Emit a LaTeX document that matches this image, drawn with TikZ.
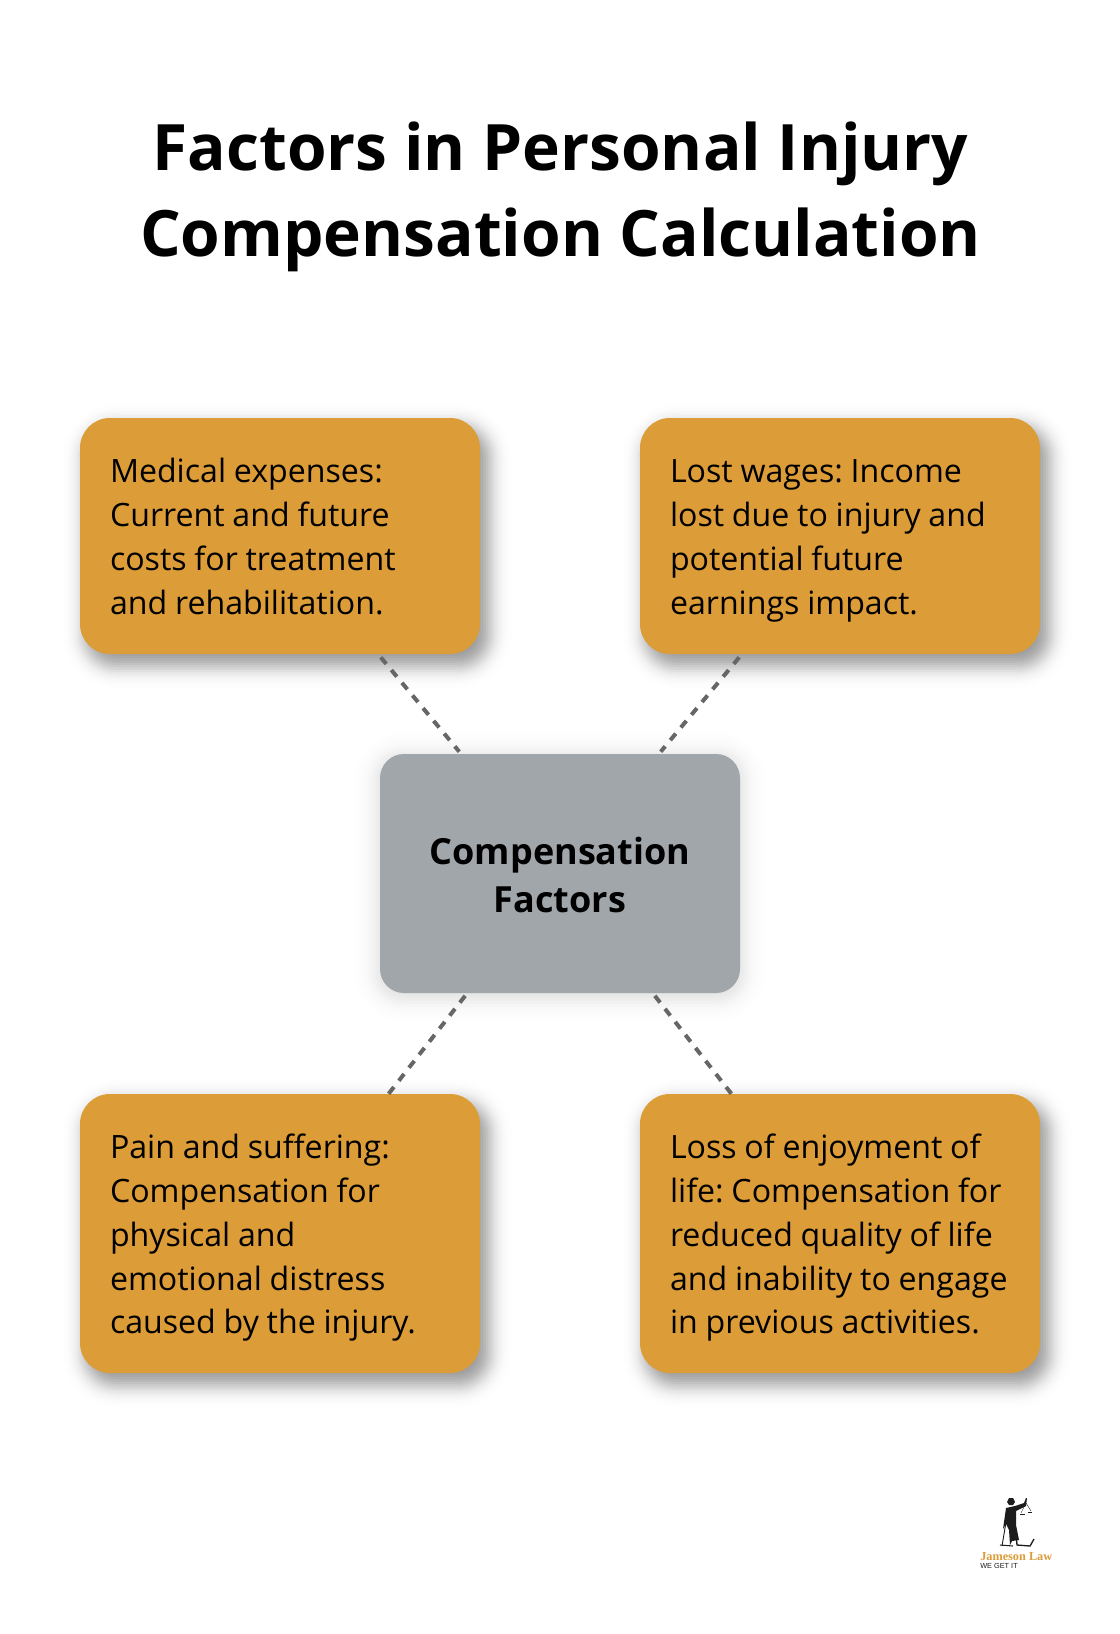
\documentclass[tikz,border=0pt]{standalone}
\usepackage{fontspec}
\setmainfont{Open Sans}
\newfontfamily\bodyfont[WordSpace=0.93]{Open Sans}
\newfontfamily\logoserif{Liberation Serif}
\newfontfamily\logosans{Liberation Sans}
\definecolor{jlOrange}{HTML}{DC9C38}
\definecolor{jlSlate}{HTML}{A1A6AA}
\definecolor{jlDash}{HTML}{666666}
\definecolor{jlInk}{HTML}{1C1C1C}
\usetikzlibrary{positioning}

% soft shadow: x1,y1,x2,y2,radius,peak opacity,spread
\newcommand{\softshade}[7]{%
  \foreach \k in {1,...,24}{%
    \pgfmathsetmacro{\tv}{(25-2*\k)/24}
    \pgfmathsetmacro{\dd}{#7*\tv}
    \pgfmathsetmacro{\rr}{max(#5+\dd,2)*0.75}
    \pgfmathsetmacro{\aa}{#6/10.6*exp(-4*\tv*\tv)}
    \fill[black, fill opacity=\aa, rounded corners=\rr pt]
      (#1-\dd,#2-\dd) rectangle (#3+\dd,#4+\dd);
  }%
}

\tikzset{
  factorbox/.style={fill=jlOrange, rounded corners=22.5pt, minimum width=300pt, text width=255pt,
    align=flush left, inner sep=0pt, font=\bodyfont\frenchspacing\fontsize{24.1}{32.9}\selectfont, text=black,
    execute at begin node=\rule{0pt}{29pt}, execute at end node=\rule[-9.9pt]{0pt}{0pt}},
  hubbox/.style={fill=jlSlate, rounded corners=18pt, minimum width=270pt, minimum height=179.25pt,
    align=center, inner sep=0pt, font=\fontsize{27}{36}\selectfont\bfseries, text=black},
  titletext/.style={align=center, font=\fontsize{48}{64.6}\selectfont\bfseries, text=black},
  linkline/.style={draw=jlDash, line width=3pt, dash pattern=on 6.4pt off 6pt}
}

\begin{document}
\begin{tikzpicture}[x=0.75pt,y=-0.75pt]
  \useasboundingbox (0,0) rectangle (1120,1634);
  \fill[white] (0,0) rectangle (1120,1634);

  \node[titletext] (title) at (560.5,197) {Factors in Personal Injury\\Compensation Calculation};

  % shadows
  \softshade{87}{428}{487}{664}{30}{0.5}{28}
  \softshade{647}{428}{1047}{664}{30}{0.5}{28}
  \softshade{87}{1104}{487}{1383}{30}{0.5}{28}
  \softshade{647}{1104}{1047}{1383}{30}{0.5}{28}
  \softshade{380}{757}{740}{996}{24}{0.18}{36}

  \node[factorbox, minimum height=177pt] (medical) at (280,536)
    {Medical expenses:\\Current and future\\costs for treatment\\and rehabilitation.};
  \node[factorbox, minimum height=177pt] (wages) at (840,536)
    {Lost wages: Income\\lost due to injury and\\potential future\\earnings impact.};
  \node[factorbox, minimum height=209.25pt] (pain) at (280,1233.5)
    {Pain and suffering:\\Compensation for\\physical and\\emotional distress\\caused by the injury.};
  \node[factorbox, minimum height=209.25pt] (enjoy) at (840,1233.5)
    {Loss of enjoyment of\\life: Compensation for\\reduced quality of life\\and inability to engage\\in previous activities.};
  \node[hubbox] (hub) at (560,873.5) {\rule{0pt}{23pt}Compensation\\Factors};

  \draw[linkline, shorten <=3pt, shorten >=2pt] (medical) -- (hub);
  \draw[linkline, shorten <=3pt, shorten >=2pt] (wages) -- (hub);
  \draw[linkline] (pain) -- (hub);
  \draw[linkline] (enjoy) -- (hub);

  % logo
  \fill[jlInk] (1007,1502) -- (1009,1498) -- (1013,1498) -- (1015,1502) -- (1013,1505) -- (1009,1505) -- cycle;
  \fill[jlInk] (1006,1508) -- (1015,1506) -- (1024,1503) -- (1026,1498) -- (1027,1498) -- (1026,1506)
    -- (1016,1511) -- (1016,1525) -- (1019,1540) -- (1012,1541) -- (1010,1545) -- (1009,1530) -- (1006,1524) -- (1003,1529) -- cycle;
  \draw[jlInk, line width=.7pt] (1008,1510) -- (1002,1546);
  \draw[jlInk, line width=.8pt] (1000,1545) -- (1013,1546);
  \draw[jlInk, line width=1pt] (1016,1532) -- (1017,1545) -- (1030,1546) -- (1034,1539);
  \draw[jlInk, line width=.3pt] (1026,1503) -- (1021,1513) (1026,1503) -- (1031,1511);
  \draw[jlInk, line width=.7pt] (1020,1514) -- (1025,1514);
  \draw[jlInk, line width=.7pt] (1028,1512) -- (1032,1512);
  \node[inner sep=0pt, anchor=west, text=jlOrange, font=\logoserif\fontsize{9.2}{10}\selectfont\bfseries] (logoname) at (980,1557) {Jameson Law};
  \node[inner sep=0pt, anchor=west, text=jlInk, font=\logosans\fontsize{5.5}{6}\selectfont] (logotag) at (980,1566) {WE GET IT};
\end{tikzpicture}
\end{document}
